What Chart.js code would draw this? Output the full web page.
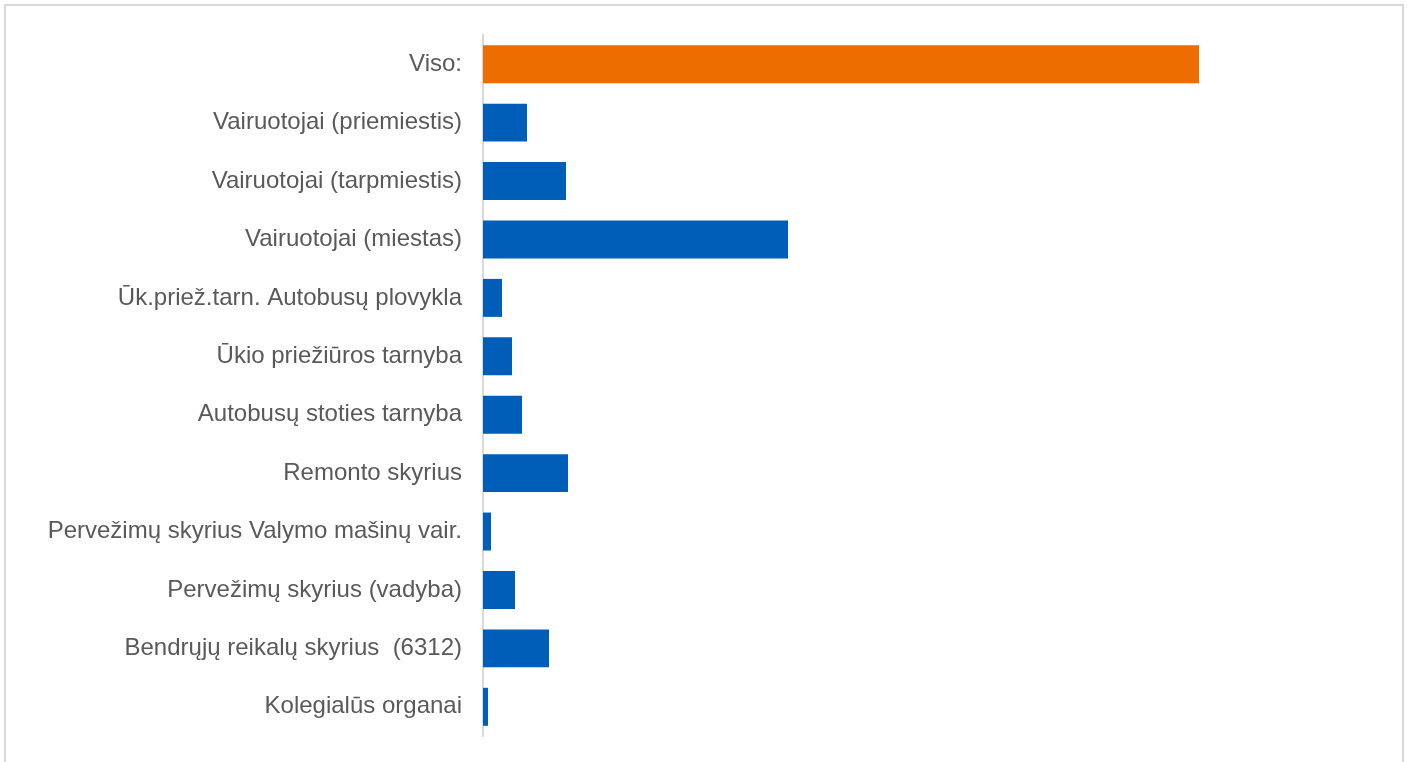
<!DOCTYPE html>
<html lang="en">
<head>
    <meta charset="UTF-8">
    <title>Darbuotojai pagal padalinius</title>
    <script src="https://cdn.jsdelivr.net/npm/chart.js@4.4.0/dist/chart.umd.min.js"></script>
    <style>
        html, body { margin: 0; padding: 0; background: #fff; overflow: hidden; }
        #frame {
            position: absolute; left: 4px; top: 4px;
            width: 1396px; height: 770px;
            border: 2px solid #d9d9d9;
        }
    </style>
</head>
<body>
    <div id="frame">
        <canvas id="chart" width="1396" height="756"></canvas>
    </div>
    <script>
    // Category labels (top to bottom)
    const labels = [
        'Viso:',
        'Vairuotojai (priemiestis)',
        'Vairuotojai (tarpmiestis)',
        'Vairuotojai (miestas)',
        'Ūk.priež.tarn. Autobusų plovykla',
        'Ūkio priežiūros tarnyba',
        'Autobusų stoties tarnyba',
        'Remonto skyrius',
        'Pervežimų skyrius Valymo mašinų vair.',
        'Pervežimų skyrius (vadyba)',
        'Bendrųjų reikalų skyrius  (6312)',
        'Kolegialūs organai'
    ];
    // values (no axis ticks in the original)
    const values = [716, 44, 83, 305, 19, 29, 39, 85, 8, 32, 66, 5];
    const barColors = ['#ed6d00', '#005eb8', '#005eb8', '#005eb8', '#005eb8', '#005eb8',
                       '#005eb8', '#005eb8', '#005eb8', '#005eb8', '#005eb8', '#005eb8'];

    const ctx = document.getElementById('chart').getContext('2d');
    const myChart = new Chart(ctx, {
        type: 'bar',
        data: {
            labels: labels,
            datasets: [{
                data: values,
                backgroundColor: barColors,
                borderWidth: 0,
                categoryPercentage: 1,
                barPercentage: 0.65
            }]
        },
        options: {
            indexAxis: 'y',
            responsive: false,
            animation: false,
            layout: { padding: { top: 29, bottom: 26, left: 0, right: 19 } },
            plugins: { legend: { display: false }, tooltip: { enabled: false } },
            scales: {
                x: {
                    display: false,
                    min: 0,
                    max: 900
                },
                y: {
                    grid: { display: false, drawTicks: false },
                    border: { display: true, color: '#d9d9d9', width: 2 },
                    ticks: {
                        color: '#595959',
                        padding: 21,
                        font: { family: 'Liberation Sans', size: 24 }
                    },
                    afterFit: function (scale) {
                        scale.width = 477;
                        // labels sit mid-category, no overflow padding needed
                        scale.paddingTop = 0;
                        scale.paddingBottom = 0;
                    }
                }
            }
        }
    });
    </script>
</body>
</html>
